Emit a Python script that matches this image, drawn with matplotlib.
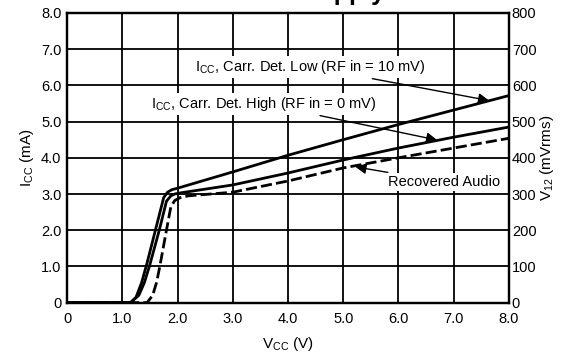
import matplotlib
matplotlib.use("Agg")
import matplotlib.pyplot as plt

plt.rcParams["font.family"] = ["Liberation Sans", "DejaVu Sans"]
plt.rcParams["mathtext.fontset"] = "custom"
plt.rcParams["mathtext.rm"] = "Liberation Sans"
plt.rcParams["mathtext.it"] = "Liberation Sans"

# Données
vcc_low = [0, 1.15, 1.25, 1.35, 1.45, 1.6, 1.75, 1.82, 1.9, 2.0, 3.0, 4.0, 5.0, 6.0, 7.0, 8.0]
icc_low = [0, 0, 0.15, 0.55, 1.1, 2.0, 2.9, 3.05, 3.12, 3.16, 3.61, 4.07, 4.5, 4.92, 5.32, 5.72]

vcc_high = [0, 1.15, 1.3, 1.4, 1.5, 1.67, 1.8, 1.88, 1.95, 2.05, 3.0, 4.0, 5.0, 6.0, 7.0, 8.0]
icc_high = [0, 0, 0.2, 0.55, 1.05, 2.0, 2.8, 2.95, 3.0, 3.03, 3.25, 3.58, 3.94, 4.27, 4.57, 4.85]

vcc_audio = [0, 1.45, 1.55, 1.62, 1.68, 1.8, 1.88, 1.95, 2.05, 2.2, 3.0, 4.0, 5.0, 6.0, 7.0, 8.0]
v12_audio = [0, 0, 20, 55, 100, 200, 265, 282, 290, 295, 305, 336, 372, 400, 427, 454]

xticks = [0, 1, 2, 3, 4, 5, 6, 7, 8]
xlabels = ["0", "1.0", "2.0", "3.0", "4.0", "5.0", "6.0", "7.0", "8.0"]
yticks = [0, 1, 2, 3, 4, 5, 6, 7, 8]
ylabels = ["0", "1.0", "2.0", "3.0", "4.0", "5.0", "6.0", "7.0", "8.0"]
y2ticks = [0, 100, 200, 300, 400, 500, 600, 700, 800]
y2labels = ["0", "100", "200", "300", "400", "500", "600", "700", "800"]

fig = plt.figure(figsize=(5.61, 3.58), dpi=100)
ax = fig.add_axes([67 / 561, 1 - 302.6 / 358, 442 / 561, 289.6 / 358])
ax2 = ax.twinx()

ax.plot(vcc_low, icc_low, color="black", lw=2)
ax.plot(vcc_high, icc_high, color="black", lw=2)
ax2.plot(vcc_audio, v12_audio, color="black", lw=2, linestyle=(0, (4, 1.5)))

ax.set_xlim(0, 8)
ax.set_ylim(0, 8)
ax2.set_ylim(0, 800)
ax.set_xticks(xticks, xlabels)
ax.set_yticks(yticks, ylabels)
ax2.set_yticks(y2ticks, y2labels)
ax.grid(True, color="black", lw=1.3)
ax.tick_params(axis="y", length=0, labelsize=10.5, pad=4)
ax.tick_params(axis="x", length=0, labelsize=10.5, pad=7)
ax2.tick_params(length=0, labelsize=10.5, pad=2)
for a in (ax, ax2):
    for s in a.spines.values():
        s.set_linewidth(1.6)

ax.set_xlabel("V$_{\\mathrm{CC}}$ (V)", fontsize=11, labelpad=6)
ax.set_ylabel("I$_{\\mathrm{CC}}$ (mA)", fontsize=11, labelpad=4)
ax2.set_ylabel("V$_{\\mathrm{12}}$ (mVrms)", fontsize=11, labelpad=1)

fleche = dict(arrowstyle="-|>", color="black", lw=1, mutation_scale=16, shrinkA=2, shrinkB=0)
fond = dict(boxstyle="square,pad=0.15", fc="white", ec="none")
ax.annotate("I$_{\\mathrm{CC}}$, Carr. Det. Low (RF in = 10 mV)", xy=(7.64, 5.58), xytext=(4.40, 6.51),
            ha="center", va="center", fontsize=10.5, bbox=fond, arrowprops=fleche)
ax.annotate("I$_{\\mathrm{CC}}$, Carr. Det. High (RF in = 0 mV)", xy=(6.7, 4.49), xytext=(3.56, 5.49),
            ha="center", va="center", fontsize=10.5, bbox=fond, arrowprops=fleche)
ax2.annotate("Recovered Audio", xy=(5.22, 375), xytext=(6.83, 333),
             ha="center", va="center", fontsize=10.5, bbox=fond, arrowprops=fleche)

# titre coupé en haut de l'image
fig.text(385 / 561, 1.0, "Current versus Supply", ha="right", va="baseline",
         fontsize=18, fontweight="bold")

fig.savefig("out.png", dpi=100)
